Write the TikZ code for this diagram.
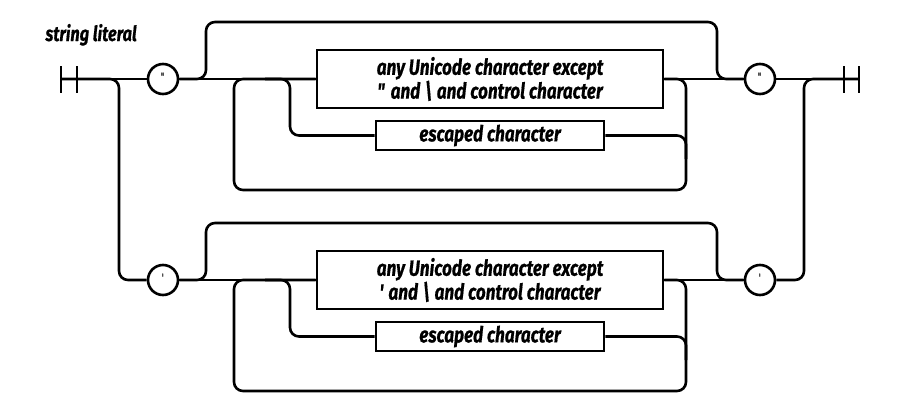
\documentclass[tikz,border=0pt]{standalone}
\usepackage{fontspec}
\newfontfamily\railfont[FakeStretch=0.78,FakeBold=0.6]{Fira Sans}
\usetikzlibrary{positioning,calc}
\tikzset{term/.style={circle,draw,line width=2.6pt,minimum size=30pt,inner sep=0pt,font=\railfont\fontsize{11}{11}\selectfont},
  nonterm/.style={draw,line width=2.6pt,align=center,inner sep=0pt,font=\railfont\bfseries\itshape\fontsize{22}{21}\selectfont},
  rail/.style={line width=2.6pt,rounded corners=9pt}}
\begin{document}
\begin{tikzpicture}[x=1pt,y=-1pt]
\useasboundingbox (0,0) rectangle (922,405);
\node[anchor=base west,font=\railfont\bfseries\itshape\fontsize{21}{20}\selectfont] (title) at (42,41) {string literal};
\coordinate (start) at (61,79);
\coordinate (stop) at (859,79);
% end bars
\draw[line width=2.6pt] (start) ++(0,-13) -- ++(0,27) (start) ++(16,-13) -- ++(0,27);
\draw[line width=2.6pt] (stop) ++(0,-13) -- ++(0,27) (stop) ++(-15,-13) -- ++(0,27);
\foreach \r/\y/\q in {1/79/\textquotedbl, 2/280/\textquotesingle}{
  \node[term] (q\r a) at (163,\y) {\raisebox{5pt}{\q}};
  \node[term] (q\r b) at (760,\y) {\raisebox{5pt}{\q}};
  \node[nonterm,minimum width=346pt,minimum height=58pt] (uc\r) at (490,\y) {any Unicode character except\\\q{} and \textbackslash{} and control character};
  \node[nonterm,minimum width=228pt,minimum height=29pt] (esc\r) at (490,\y+56.5) {escaped character};
  \coordinate (j\r) at (265,\y);
  \draw[rail] (q\r a) -- (uc\r) -- (q\r b);
  % skip over
  \draw[rail] (q\r a.east) -- (206,\y) -- (206,\y-57) -- (717,\y-57) -- (717,\y) -- (q\r b.west);
  % repeat
  \draw[rail] (uc\r.west) -- (234,\y) -- (234,\y+111) -- (686,\y+111) -- (686,\y) -- (uc\r.east);
  \draw[rail] (j\r) -- (290,\y) |- (esc\r.west);
  \draw[rail] (esc\r.east) -- (686,\y+56.5) -- (686,\y+80);
}
\draw[rail] (start) -- (q1a);
\draw[rail] (q1b) -- (stop);
\draw[rail] (start) -- (119,79) -- (119,280) -- (q2a.west);
\draw[rail] (q2b.east) -- (804,280) -- (804,79) -- (stop);
\end{tikzpicture}
\end{document}
